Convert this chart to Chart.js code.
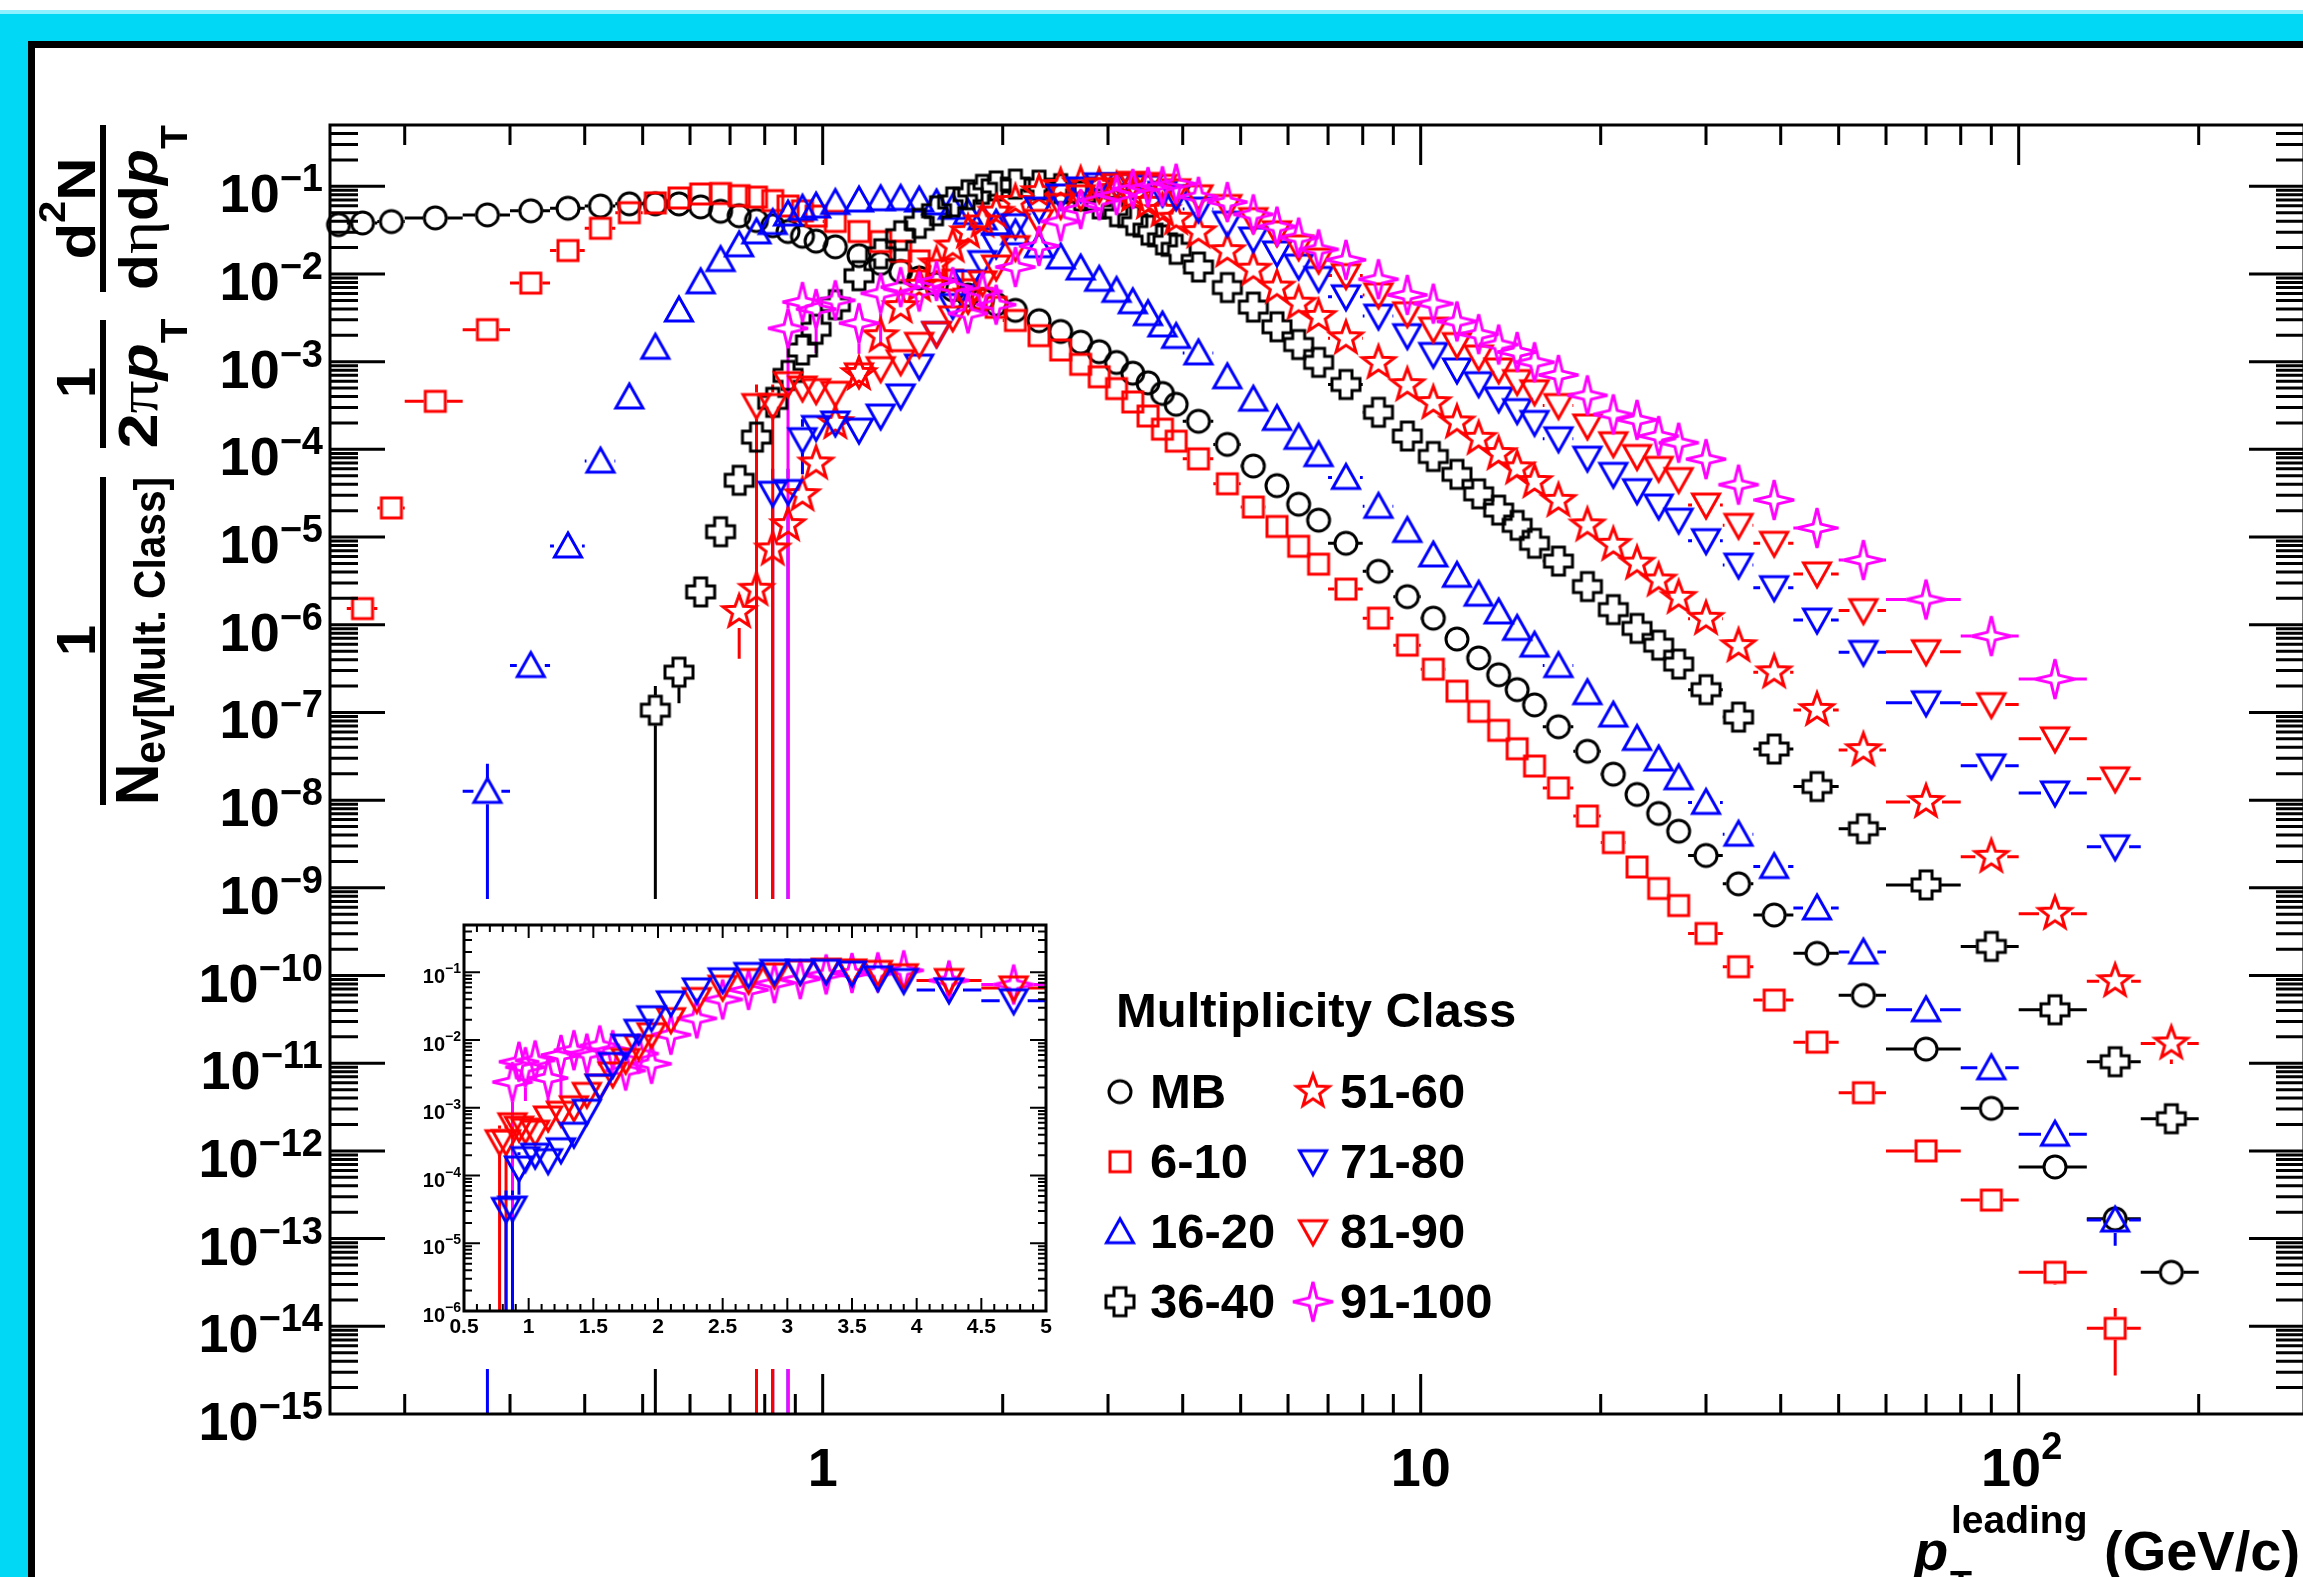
<!DOCTYPE html>
<html>
<head>
<meta charset="utf-8">
<script src="https://cdn.jsdelivr.net/npm/chart.js@4.4.0/dist/chart.umd.min.js"></script>
<style>
  html, body { margin: 0; padding: 0; background: #fff; overflow: hidden; }
  #wrap { position: relative; width: 2303px; height: 1577px; overflow: hidden; }
  #main { position: absolute; left: 0; top: 0; }
  #inset { position: absolute; left: 420px; top: 899px; background: #fff; }
</style>
</head>
<body>
<div id="wrap">
  <canvas id="main" width="2320" height="1577"></canvas>
  <canvas id="inset" width="639" height="470"></canvas>
</div>
<script>
// pT bin edges (GeV/c), same binning for every multiplicity class
const ptEdges = [0.15, 0.16, 0.18, 0.2, 0.25, 0.3, 0.35, 0.4, 0.45, 0.5, 0.55, 0.6, 0.65, 0.7, 0.75, 0.8, 0.85, 0.9, 0.95, 1.0,
  1.1, 1.2, 1.3, 1.4, 1.5, 1.6, 1.7, 1.8, 1.9, 2.0, 2.2, 2.4, 2.6, 2.8, 3.0, 3.2, 3.4, 3.6, 3.8, 4.0,
  4.5, 5.0, 5.5, 6.0, 6.5, 7.0, 8, 9, 10, 11, 12, 13, 14, 15, 16, 18, 20, 22, 24, 26, 28, 32, 36, 42, 50, 60, 80, 100, 130, 160, 200];
const ptCenters = ptEdges.slice(0, -1).map((lo, i) => (lo + ptEdges[i + 1]) / 2);

// yields per bin (null = no point)
const yMB = [3.65e-2, 3.82e-2, 3.96e-2, 4.36e-2, 4.72e-2, 5.25e-2, 5.62e-2, 5.96e-2, 6.31e-2, 6.31e-2,
  6.3e-2, 5.82e-2, 5.19e-2, 4.61e-2, 4.07e-2, 3.55e-2, 3.05e-2, 2.69e-2, 2.37e-2, 2.04e-2,
  1.62e-2, 1.32e-2, 1.07e-2, 9.02e-3, 7.67e-3, 6.61e-3, 5.75e-3, 5.07e-3, 4.52e-3, 3.85e-3,
  2.93e-3, 2.21e-3, 1.67e-3, 1.3e-3, 9.8e-4, 7.4e-4, 5.74e-4, 4.34e-4, 3.27e-4, 2.09e-4,
  1.14e-4, 6.46e-5, 3.86e-5, 2.37e-5, 1.56e-5, 8.5e-6, 4.07e-6, 2.09e-6, 1.19e-6, 6.87e-7,
  4.18e-7, 2.69e-7, 1.82e-7, 1.22e-7, 6.87e-8, 3.61e-8, 1.98e-8, 1.16e-8, 7.05e-9, 4.42e-9,
  2.34e-9, 1.11e-9, 4.9e-10, 1.79e-10, 5.94e-11, 1.45e-11, 3.06e-12, 6.56e-13, 1.68e-13, 4.13e-14];
const y6to10 = [null, 1.53e-6, 2.15e-5, 3.53e-4, 2.32e-3, 7.87e-3, 1.85e-2, 3.32e-2, 5.0e-2, 6.47e-2,
  7.36e-2, 8.18e-2, 8.28e-2, 7.82e-2, 7.53e-2, 6.87e-2, 5.96e-2, 5.25e-2, 4.57e-2, 3.98e-2,
  3.05e-2, 2.34e-2, 1.82e-2, 1.41e-2, 1.1e-2, 8.51e-3, 6.61e-3, 5.25e-3, 4.17e-3, 2.95e-3,
  1.98e-3, 1.36e-3, 9.33e-4, 6.73e-4, 4.93e-4, 3.47e-4, 2.4e-4, 1.7e-4, 1.24e-4, 7.8e-5,
  4.05e-5, 2.2e-5, 1.32e-5, 7.85e-6, 4.91e-6, 2.55e-6, 1.19e-6, 5.85e-7, 3.11e-7, 1.75e-7,
  1.03e-7, 6.25e-8, 3.85e-8, 2.45e-8, 1.38e-8, 6.59e-9, 3.28e-9, 1.73e-9, 9.84e-10, 6.28e-10,
  3.02e-10, 1.26e-10, 5.25e-11, 1.74e-11, 4.61e-12, 1.0e-12, 2.75e-13, 4.13e-14, 9.48e-15, null];
const y16to20 = [null, null, null, null, 1.26e-8, 3.43e-7, 7.92e-6, 7.35e-5, 3.96e-4, 1.46e-3,
  3.89e-3, 8.13e-3, 1.46e-2, 2.15e-2, 3.02e-2, 3.86e-2, 4.83e-2, 5.62e-2, 5.96e-2, 6.53e-2,
  6.97e-2, 7.21e-2, 7.29e-2, 6.97e-2, 6.46e-2, 5.75e-2, 5.01e-2, 4.37e-2, 3.8e-2, 2.95e-2,
  2.1e-2, 1.56e-2, 1.17e-2, 8.69e-3, 6.5e-3, 4.82e-3, 3.53e-3, 2.62e-3, 1.94e-3, 1.26e-3,
  6.73e-4, 3.73e-4, 2.25e-4, 1.37e-4, 8.71e-5, 4.79e-5, 2.24e-5, 1.19e-5, 6.25e-6, 3.66e-6,
  2.23e-6, 1.4e-6, 9.08e-7, 5.85e-7, 3.42e-7, 1.68e-7, 9.33e-8, 5.05e-8, 2.95e-8, 1.8e-8,
  9.42e-9, 4.09e-9, 1.75e-9, 5.9e-10, 1.85e-10, 4.07e-11, 8.87e-12, 1.55e-12, 1.63e-13, null];
const y36to40 = [null, null, null, null, null, null, null, null, null, 1.06e-7,
  2.88e-7, 2.37e-6, 1.15e-5, 4.44e-5, 1.38e-4, 3.44e-4, 6.97e-4, 1.36e-3, 2.34e-3, 4.47e-3,
  9.55e-3, 1.7e-2, 2.73e-2, 3.78e-2, 5.26e-2, 6.64e-2, 8.02e-2, 9.23e-2, 1.01e-1, 1.06e-1,
  1.03e-1, 9.4e-2, 7.76e-2, 6.31e-2, 5.13e-2, 4.07e-2, 3.16e-2, 2.45e-2, 1.91e-2, 1.2e-2,
  7.01e-3, 4.19e-3, 2.5e-3, 1.57e-3, 9.82e-4, 5.5e-4, 2.65e-4, 1.42e-4, 8.3e-5, 5.19e-5,
  3.11e-5, 2.03e-5, 1.36e-5, 8.49e-6, 5.32e-6, 2.73e-6, 1.49e-6, 9.08e-7, 5.85e-7, 3.56e-7,
  1.82e-7, 8.85e-8, 3.83e-8, 1.43e-8, 4.72e-9, 1.08e-9, 2.15e-10, 4.07e-11, 1.04e-11, 2.33e-12];
const y51to60 = [null, null, null, null, null, null, null, null, null, null,
  null, null, null, 1.4e-6, 2.51e-6, 7.23e-6, 1.37e-5, 3.01e-5, 6.92e-5, 2.0e-4,
  7.24e-4, 1.95e-3, 4.19e-3, 7.35e-3, 1.29e-2, 2.06e-2, 3.0e-2, 3.97e-2, 5.01e-2, 6.64e-2,
  8.57e-2, 1.01e-1, 1.06e-1, 1.01e-1, 9.12e-2, 7.76e-2, 6.46e-2, 5.25e-2, 4.27e-2, 3.0e-2,
  1.82e-2, 1.12e-2, 7.01e-3, 4.59e-3, 3.24e-3, 1.85e-3, 9.68e-4, 5.4e-4, 3.37e-4, 2.03e-4,
  1.32e-4, 8.85e-5, 6.08e-5, 4.25e-5, 2.59e-5, 1.36e-5, 8.17e-6, 4.98e-6, 3.2e-6, 2.03e-6,
  1.17e-6, 5.71e-7, 2.87e-7, 1.07e-7, 3.72e-8, 9.55e-9, 2.26e-9, 5.07e-10, 8.63e-11, 1.68e-11];
const y71to80 = [null, null, null, null, null, null, null, null, null, null,
  null, null, null, null, null, 3.16e-5, 3.31e-5, 1.29e-4, 1.78e-4, 2.0e-4,
  1.66e-4, 2.4e-4, 4.07e-4, 8.91e-4, 2.09e-3, 4.37e-3, 8.13e-3, 1.35e-2, 2.14e-2, 3.55e-2,
  5.5e-2, 7.76e-2, 9.33e-2, 1.04e-1, 1.04e-1, 1.04e-1, 9.77e-2, 8.32e-2, 7.59e-2, 5.5e-2,
  3.8e-2, 2.51e-2, 1.74e-2, 1.23e-2, 8.91e-3, 5.5e-3, 3.31e-3, 1.98e-3, 1.21e-3, 8.05e-4,
  5.61e-4, 3.76e-4, 2.77e-4, 2.03e-4, 1.32e-4, 7.94e-5, 5.19e-5, 3.38e-5, 2.26e-5, 1.56e-5,
  9.1e-6, 4.79e-6, 2.65e-6, 1.13e-6, 4.85e-7, 1.29e-7, 2.46e-8, 1.21e-8, 2.94e-9, null];
const y81to90 = [null, null, null, null, null, null, null, null, null, null,
  null, null, null, null, 3.16e-4, 3.16e-4, 5.62e-4, 5.01e-4, 4.68e-4, 4.37e-4,
  7.08e-4, 8.32e-4, 1.0e-3, 1.58e-3, 2.09e-3, 3.16e-3, 5.01e-3, 7.94e-3, 1.2e-2, 2.0e-2,
  3.98e-2, 6.03e-2, 7.59e-2, 9.12e-2, 1.02e-1, 1.08e-1, 1.05e-1, 1.0e-1, 8.91e-2, 7.59e-2,
  5.89e-2, 4.17e-2, 2.95e-2, 2.04e-2, 1.44e-2, 9.59e-3, 5.77e-3, 3.52e-3, 2.35e-3, 1.57e-3,
  1.13e-3, 8.05e-4, 5.93e-4, 4.54e-4, 3.16e-4, 1.85e-4, 1.16e-4, 8.3e-5, 6.08e-5, 4.53e-5,
  2.32e-5, 1.36e-5, 8.49e-6, 3.8e-6, 1.45e-6, 4.93e-7, 1.23e-7, 5.0e-8, 1.75e-8, null];
const y91to100 = [null, null, null, null, null, null, null, null, null, null,
  null, null, null, null, null, null, 2.4e-3, 4.79e-3, 3.98e-3, 5.01e-3,
  2.75e-3, 6.03e-3, 7.08e-3, 6.31e-3, 8.32e-3, 7.08e-3, 3.55e-3, 6.31e-3, 4.47e-3, 1.2e-2,
  2.09e-2, 3.98e-2, 5.5e-2, 6.92e-2, 7.94e-2, 9.33e-2, 9.77e-2, 1.0e-1, 1.07e-1, 7.59e-2,
  6.61e-2, 4.79e-2, 3.47e-2, 2.6e-2, 1.91e-2, 1.45e-2, 8.71e-3, 5.77e-3, 4.59e-3, 2.88e-3,
  2.06e-3, 1.57e-3, 1.29e-3, 9.86e-4, 7.05e-4, 4.13e-4, 2.51e-4, 2.17e-4, 1.42e-4, 1.19e-4,
  7.74e-5, 3.96e-5, 2.65e-5, 1.27e-5, 5.47e-6, 1.94e-6, 7.43e-7, 2.4e-7, null, null];

// visible vertical error bars: [pT, low, high]
const err6to10 = [[115, 3.0e-14, 5.6e-14], [145, 2.75e-15, 1.62e-14]];
const err16to20 = [[0.275, 1e-16, 2.6e-8], [145, 8.3e-14, 2.3e-13]];
const err36to40 = [[0.525, 1e-16, 2.0e-7], [0.575, 1.27e-7, 4.3e-7]];
const err51to60 = [[0.725, 4.1e-7, 2.2e-6], [180, 9.8e-12, 2.6e-11]];
const err71to80 = [[0.825, 1e-16, 6e-5], [0.875, 1e-16, 6e-5], [0.925, 5.2e-5, 2.2e-4]];
const err81to90 = [[0.775, 1e-16, 5.5e-4], [0.825, 1e-16, 5.5e-4]];
const err91to100 = [[0.875, 1e-16, 4.6e-3], [0.975, 1.26e-3, 6.3e-3], [1.15, 1.23e-3, 4.2e-3], [1.25, 1.5e-3, 1.0e-2]];

const classNames = ['MB', '6-10', '16-20', '36-40', '51-60', '71-80', '81-90', '91-100'];

// ---- marker images (ROOT style open markers) ----
const MS = 60;
function makeMarker(kind, color) {
  const c = document.createElement('canvas');
  c.width = MS; c.height = MS;
  const g = c.getContext('2d');
  const m = MS / 2;
  g.strokeStyle = color;
  g.lineWidth = 3;
  g.lineJoin = 'miter';
  g.miterLimit = 4;
  g.beginPath();
  const poly = pts => {
    pts.forEach(([px, py], i) => i ? g.lineTo(m + px, m + py) : g.moveTo(m + px, m + py));
    g.closePath();
  };
  if (kind === 'circle') g.arc(m, m, 11, 0, Math.PI * 2);
  else if (kind === 'square') g.rect(m - 10, m - 10, 20, 20);
  else if (kind === 'triUp') poly([[0, -13], [13.5, 11], [-13.5, 11]]);
  else if (kind === 'triDown') poly([[0, 13], [13.5, -11], [-13.5, -11]]);
  else if (kind === 'cross') {
    const a = 14, b = 6;
    poly([[-b, -a], [b, -a], [b, -b], [a, -b], [a, b], [b, b], [b, a], [-b, a], [-b, b], [-a, b], [-a, -b], [-b, -b]]);
  } else {
    const n = kind === 'star5' ? 5 : 4, R = kind === 'star5' ? 17 : 20, r = kind === 'star5' ? 7 : 5.5;
    const pts = [];
    for (let k = 0; k < 2 * n; k++) {
      const ang = -Math.PI / 2 + k * Math.PI / n;
      const rr = k % 2 ? r : R;
      pts.push([rr * Math.cos(ang), rr * Math.sin(ang)]);
    }
    poly(pts);
  }
  g.stroke();
  return c;
}

const series = [
  { values: yMB, errors: [], color: '#000000', kind: 'circle', hw: 12, hh: 12 },
  { values: y6to10, errors: err6to10, color: '#ff0000', kind: 'square', hw: 11.5, hh: 11.5 },
  { values: y16to20, errors: err16to20, color: '#0000ff', kind: 'triUp', hw: 14, hh: 13 },
  { values: y36to40, errors: err36to40, color: '#000000', kind: 'cross', hw: 15, hh: 15 },
  { values: y51to60, errors: err51to60, color: '#ff0000', kind: 'star5', hw: 16, hh: 16 },
  { values: y71to80, errors: err71to80, color: '#0000ff', kind: 'triDown', hw: 14, hh: 13 },
  { values: y81to90, errors: err81to90, color: '#ff0000', kind: 'triDown', hw: 14, hh: 13 },
  { values: y91to100, errors: err91to100, color: '#ff00ff', kind: 'star4', hw: 20, hh: 20 }
];
series.forEach((s, k) => { s.name = classNames[k]; s.img = makeMarker(s.kind, s.color); });

function toPoints(values) {
  return values.map((v, i) => v == null ? null : { x: ptCenters[i], y: v }).filter(p => p);
}
function ptIndex(pt) {
  let best = 0;
  ptCenters.forEach((c, i) => { if (Math.abs(c - pt) < Math.abs(ptCenters[best] - pt)) best = i; });
  return best;
}

const B = n => `bold ${n}px "Liberation Sans", Arial, sans-serif`;
const BI = n => `italic bold ${n}px "Liberation Sans", Arial, sans-serif`;
const SY = n => `${n}px "Liberation Serif", "DejaVu Serif", serif`;

function logTicks(min, max) {
  const out = [];
  for (let e = Math.floor(Math.log10(min)); e <= Math.ceil(Math.log10(max)); e++) {
    for (let k = 1; k <= 9; k++) {
      const v = k * Math.pow(10, e);
      if (v >= min * 0.999 && v <= max * 1.001) out.push({ v, major: k === 1 });
    }
  }
  return out;
}

function supText(ctx, base, sup, xPos, yBase, fb, fs, dy, align) {
  ctx.font = B(fb); const wb = ctx.measureText(base).width;
  ctx.font = B(fs); const ws = ctx.measureText(sup).width;
  const x0 = align === 'right' ? xPos - wb - ws : align === 'center' ? xPos - (wb + ws) / 2 : xPos;
  ctx.textAlign = 'left';
  ctx.textBaseline = 'alphabetic';
  ctx.font = B(fb); ctx.fillText(base, x0, yBase);
  ctx.font = B(fs); ctx.fillText(sup, x0 + wb, yBase - dy);
}

function seg(ctx, x0, y0, x1, y1) {
  if (Math.abs(x1 - x0) < 0.5 && Math.abs(y1 - y0) < 0.5) return;
  if ((x1 - x0) < 0 || (y1 - y0) < 0) return;
  ctx.moveTo(x0, y0); ctx.lineTo(x1, y1);
}

// horizontal bars = bin width, vertical bars from the error lists
function drawBars(chart, list) {
  const { ctx, chartArea: a, scales: { x, y } } = chart;
  ctx.save();
  ctx.beginPath();
  ctx.rect(a.left, a.top, a.right - a.left, a.bottom - a.top);
  ctx.clip();
  ctx.lineWidth = 3;
  list.forEach(s => {
    ctx.strokeStyle = s.color;
    ctx.beginPath();
    s.values.forEach((v, i) => {
      if (v == null) return;
      const xc = x.getPixelForValue(ptCenters[i]);
      const x0 = x.getPixelForValue(ptEdges[i]);
      const x1 = x.getPixelForValue(ptEdges[i + 1]);
      const yc = y.getPixelForValue(v);
      seg(ctx, x0, yc, xc - s.hw, yc);
      seg(ctx, xc + s.hw, yc, x1, yc);
    });
    s.errors.forEach(([pt, lo, hi]) => {
      const i = ptIndex(pt);
      const xc = x.getPixelForValue(ptCenters[i]);
      const yc = y.getPixelForValue(s.values[i]);
      seg(ctx, xc, y.getPixelForValue(hi), xc, yc - s.hh);
      seg(ctx, xc, yc + s.hh, xc, y.getPixelForValue(lo));
    });
    ctx.stroke();
  });
  ctx.restore();
}

// rotated (bottom to top) text run centred on cy, baseline at screen x = baseX
function vText(ctx, pieces, cy, baseX, targetLen) {
  let w = 0;
  pieces.forEach(p => { ctx.font = p.font; p.w = ctx.measureText(p.t).width; w += p.w; });
  const s = targetLen ? targetLen / w : 1;
  ctx.save();
  ctx.translate(baseX, cy);
  ctx.rotate(-Math.PI / 2);
  ctx.scale(s, 1);
  ctx.textAlign = 'left';
  ctx.textBaseline = 'alphabetic';
  let u = -w / 2;
  pieces.forEach(p => { ctx.font = p.font; ctx.fillText(p.t, u, p.dy || 0); u += p.w; });
  ctx.restore();
}

const pagePlugin = {
  id: 'page',
  beforeDraw(chart) {
    const { ctx, width, height } = chart;
    ctx.save();
    ctx.fillStyle = '#ffffff';
    ctx.fillRect(0, 0, width, height);
    ctx.fillStyle = '#00d8f6';
    ctx.fillRect(0, 10, width, 31);
    ctx.fillRect(0, 10, 28, height);
    ctx.fillStyle = '#8ff0ff';
    ctx.fillRect(0, 10, width, 4);
    ctx.fillStyle = '#000000';
    ctx.fillRect(28, 41, width, 7);
    ctx.fillRect(28, 41, 7, height);
    ctx.restore();
  }
};

const mainAxes = {
  id: 'mainAxes',
  beforeDatasetsDraw(chart) { drawBars(chart, series); },
  afterDraw(chart) {
    const { ctx, chartArea: a, scales: { x, y } } = chart;
    ctx.save();
    ctx.strokeStyle = '#000';
    ctx.fillStyle = '#000';
    ctx.lineWidth = 3;
    ctx.strokeRect(a.left, a.top, a.right - a.left, a.bottom - a.top);
    ctx.beginPath();
    logTicks(0.15, 300).forEach(t => {
      const px = x.getPixelForValue(t.v);
      if (px <= a.left + 2 || px >= a.right - 2) return;
      const L = t.major ? 40 : 20;
      ctx.moveTo(px, a.bottom); ctx.lineTo(px, a.bottom - L);
      ctx.moveTo(px, a.top); ctx.lineTo(px, a.top + L);
    });
    logTicks(1e-15, 0.5).forEach(t => {
      const py = y.getPixelForValue(t.v);
      if (py <= a.top + 2 || py >= a.bottom - 2) return;
      const L = t.major ? 55 : 28;
      ctx.moveTo(a.left, py); ctx.lineTo(a.left + L, py);
      ctx.moveTo(a.right, py); ctx.lineTo(a.right - L, py);
    });
    ctx.stroke();

    // y tick labels
    for (let n = 1; n <= 15; n++) {
      const py = y.getPixelForValue(Math.pow(10, -n));
      supText(ctx, '10', '\u2212' + n, a.left - 7, py + 26, 54, 38, 21, 'right');
    }
    // x tick labels
    ctx.font = B(54);
    ctx.textAlign = 'center';
    ctx.fillText('1', x.getPixelForValue(1), 1486);
    ctx.fillText('10', x.getPixelForValue(10), 1486);
    supText(ctx, '10', '2', x.getPixelForValue(100) + 3, 1486, 54, 38, 27, 'center');

    // x title
    ctx.textAlign = 'left';
    ctx.font = BI(56); ctx.fillText('p', 1914, 1570);
    ctx.font = B(36); ctx.fillText('T', 1950, 1597);
    ctx.font = B(39); ctx.fillText('leading', 1951, 1533);
    ctx.font = B(56); ctx.fillText('(GeV/c)', 2104, 1570);

    // y title: 1/N_ev  1/(2 pi pT)  d2N/(d eta dpT)
    ctx.fillRect(100, 125, 6, 167);
    ctx.fillRect(100, 320, 6, 128);
    ctx.fillRect(100, 477, 6, 328);
    vText(ctx, [{ t: 'd', font: B(54) }, { t: '2', font: B(36), dy: -30 }, { t: 'N', font: B(54) }], 208.5, 95, 102);
    vText(ctx, [{ t: 'd', font: B(54) }, { t: '\u03b7', font: SY(58) }, { t: 'd', font: B(54) },
      { t: 'p', font: BI(54) }, { t: 'T', font: B(36), dy: 30 }], 207.5, 157, 165);
    vText(ctx, [{ t: '1', font: B(56) }], 382.5, 95);
    vText(ctx, [{ t: '2', font: B(56) }, { t: '\u03c0', font: SY(58) }, { t: 'p', font: BI(54) },
      { t: 'T', font: B(36), dy: 30 }], 383.5, 157, 130);
    vText(ctx, [{ t: '1', font: B(56) }], 640.5, 95);
    vText(ctx, [{ t: 'N', font: B(62) }, { t: 'ev[Mult. Class]', font: B(44), dy: 7 }], 641, 158, 328);

    // legend
    ctx.textAlign = 'left';
    ctx.font = B(49);
    ctx.fillText('Multiplicity Class', 1116, 1027);
    const rows = [1091.7, 1161.7, 1231.7, 1301.7];
    series.forEach((s, k) => {
      const cy = rows[k % 4];
      const mx = k < 4 ? 1120 : 1313;
      const tx = k < 4 ? 1150 : 1340;
      ctx.drawImage(s.img, mx - MS / 2, cy - MS / 2);
      ctx.font = B(49);
      ctx.fillText(s.name, tx, cy + 16);
    });
    ctx.restore();
  }
};

new Chart(document.getElementById('main'), {
  type: 'scatter',
  data: {
    datasets: series.map((s, k) => ({
      label: s.name,
      data: toPoints(s.values),
      pointStyle: s.img,
      pointRadius: 12,
      pointHoverRadius: 12,
      showLine: false,
      clip: false,
      order: 10 - k
    }))
  },
  options: {
    responsive: false,
    animation: false,
    devicePixelRatio: 1,
    events: [],
    layout: { padding: { left: 330, right: 16, top: 125, bottom: 163 } },
    scales: {
      x: { type: 'logarithmic', min: 0.15, max: 300, display: false },
      y: { type: 'logarithmic', min: 1e-15, max: 0.5, display: false }
    },
    plugins: { legend: { display: false }, tooltip: { enabled: false } }
  },
  plugins: [pagePlugin, mainAxes]
});

// ---- inset: zoom of the high multiplicity classes ----
const insetSeries = [series[7], series[6], series[5]];
const insetXLabels = ['0.5', '1', '1.5', '2', '2.5', '3', '3.5', '4', '4.5', '5'];

const insetAxes = {
  id: 'insetAxes',
  beforeDatasetsDraw(chart) { drawBars(chart, insetSeries); },
  afterDraw(chart) {
    const { ctx, chartArea: a, scales: { x, y } } = chart;
    ctx.save();
    ctx.strokeStyle = '#000';
    ctx.fillStyle = '#000';
    ctx.lineWidth = 2;
    ctx.beginPath();
    for (let k = 5; k <= 50; k++) {
      const px = x.getPixelForValue(k / 10);
      if (px <= a.left + 1 || px >= a.right - 1) continue;
      const L = k % 5 === 0 ? 13 : 7;
      ctx.moveTo(px, a.bottom); ctx.lineTo(px, a.bottom - L);
      ctx.moveTo(px, a.top); ctx.lineTo(px, a.top + L);
    }
    logTicks(1e-6, 0.5).forEach(t => {
      const py = y.getPixelForValue(t.v);
      if (py <= a.top + 1 || py >= a.bottom - 1) return;
      const L = t.major ? 16 : 8;
      ctx.moveTo(a.left, py); ctx.lineTo(a.left + L, py);
      ctx.moveTo(a.right, py); ctx.lineTo(a.right - L, py);
    });
    ctx.stroke();
    ctx.lineWidth = 3;
    ctx.strokeRect(a.left, a.top, a.right - a.left, a.bottom - a.top);

    for (let n = 1; n <= 6; n++) {
      const py = y.getPixelForValue(Math.pow(10, -n));
      supText(ctx, '10', '\u2212' + n, a.left - 3, py + 11, 20, 14, 10, 'right');
    }
    ctx.font = B(21);
    ctx.textAlign = 'center';
    insetXLabels.forEach(l => ctx.fillText(l, x.getPixelForValue(parseFloat(l)), a.bottom + 22));
    ctx.restore();
  }
};

new Chart(document.getElementById('inset'), {
  type: 'scatter',
  data: {
    datasets: insetSeries.map((s, k) => ({
      label: s.name,
      data: toPoints(s.values),
      pointStyle: s.img,
      pointRadius: 12,
      pointHoverRadius: 12,
      showLine: false,
      clip: false,
      order: 5 - k
    }))
  },
  options: {
    responsive: false,
    animation: false,
    devicePixelRatio: 1,
    events: [],
    layout: { padding: { left: 44, right: 2, top: 26, bottom: 58 } },
    scales: {
      x: { type: 'linear', min: 0.5, max: 5, display: false },
      y: { type: 'logarithmic', min: 1e-6, max: 0.5, display: false }
    },
    plugins: { legend: { display: false }, tooltip: { enabled: false } }
  },
  plugins: [insetAxes]
});
</script>
</body>
</html>
